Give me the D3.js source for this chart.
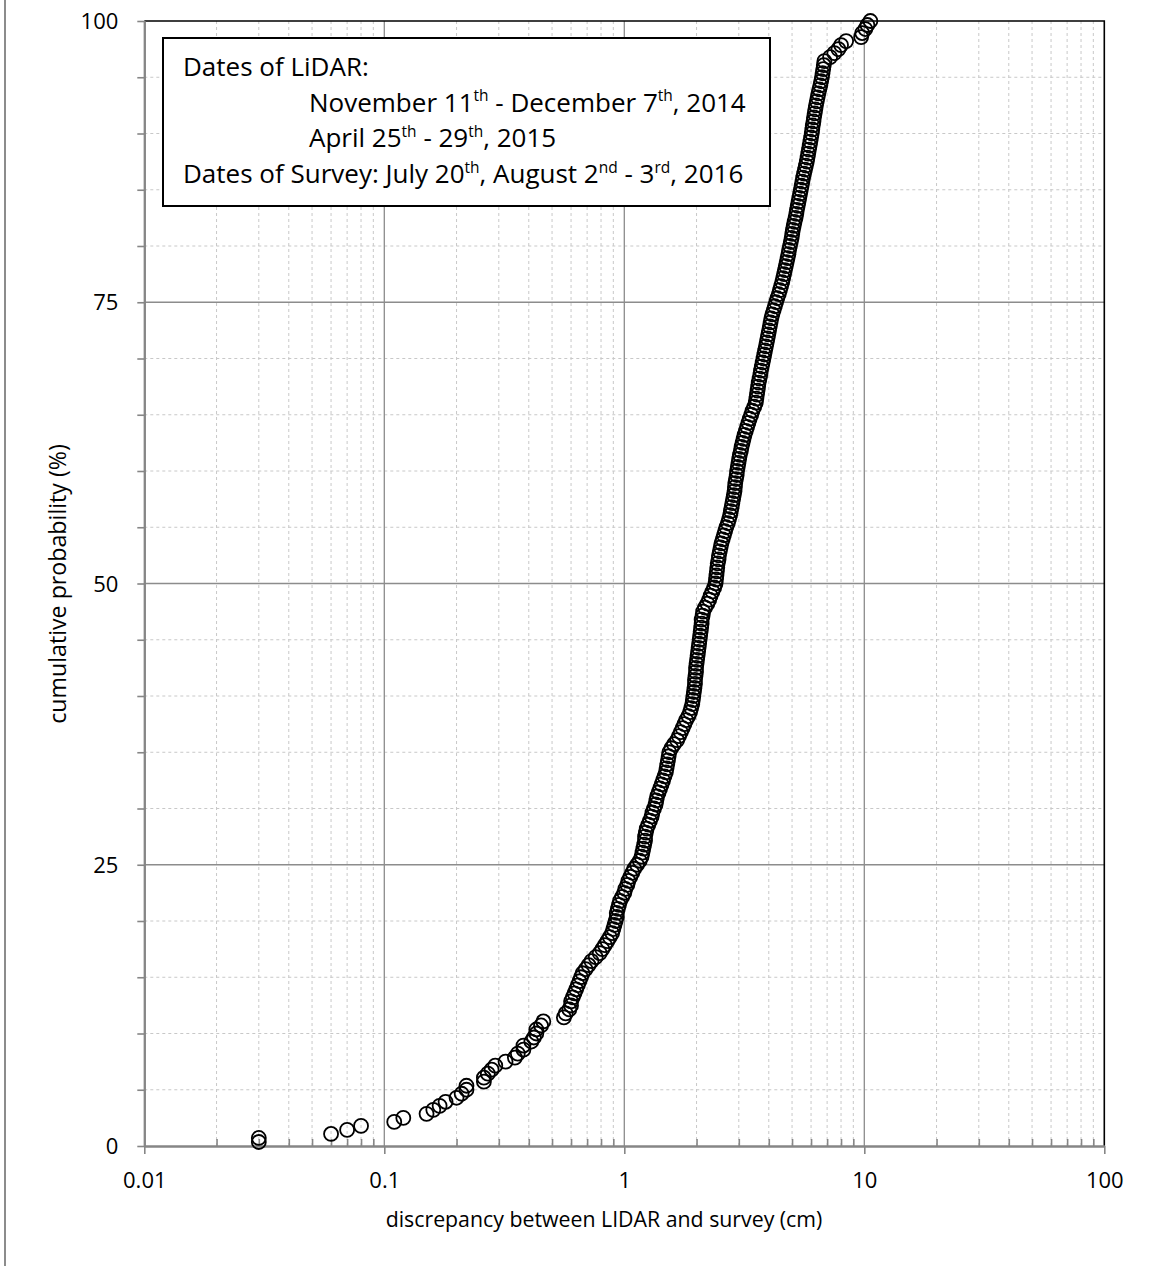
<!DOCTYPE html>
<html>
<head>
<meta charset="utf-8">
<script src="https://cdn.jsdelivr.net/npm/d3@7"></script>
<style>
	body { margin: 0; background: #fff; }
	svg { display: block; font-family: 'Open Sans', sans-serif; }
</style>
</head>
<body>
<svg id="chart" width="1151" height="1266"></svg>
<script>
// sorted discrepancies between LIDAR and survey, cm
let discrepancy = [
	0.03,0.03,0.06,0.07,0.08,0.11,0.12,0.15,0.16,0.17,
	0.18,0.20,0.21,0.22,0.22,0.26,0.26,0.27,0.28,0.29,
	0.32,0.35,0.36,0.38,0.38,0.41,0.42,0.43,0.43,0.45,
	0.46,0.56,0.57,0.59,0.60,0.60,0.61,0.62,0.63,0.64,
	0.65,0.66,0.67,0.69,0.71,0.73,0.76,0.79,0.81,0.83,
	0.85,0.87,0.89,0.90,0.91,0.92,0.93,0.93,0.94,0.95,
	0.96,0.98,1.00,1.01,1.03,1.04,1.06,1.08,1.10,1.13,
	1.16,1.18,1.19,1.20,1.21,1.22,1.22,1.23,1.24,1.26,
	1.28,1.30,1.31,1.33,1.35,1.36,1.37,1.39,1.41,1.43,
	1.45,1.47,1.49,1.50,1.51,1.52,1.53,1.54,1.57,1.61,
	1.66,1.69,1.72,1.75,1.78,1.81,1.85,1.88,1.90,1.92,
	1.93,1.94,1.95,1.96,1.97,1.97,1.98,1.99,1.99,2.00,
	2.01,2.02,2.03,2.04,2.05,2.06,2.07,2.08,2.09,2.10,
	2.10,2.12,2.13,2.17,2.22,2.26,2.29,2.33,2.37,2.40,
	2.41,2.42,2.43,2.44,2.45,2.47,2.48,2.50,2.52,2.54,
	2.57,2.60,2.63,2.66,2.70,2.73,2.76,2.78,2.80,2.82,
	2.84,2.86,2.88,2.89,2.90,2.92,2.94,2.95,2.97,2.99,
	3.01,3.03,3.06,3.08,3.11,3.14,3.17,3.21,3.25,3.29,
	3.33,3.38,3.42,3.48,3.53,3.55,3.57,3.59,3.61,3.63,
	3.66,3.69,3.71,3.74,3.77,3.80,3.83,3.86,3.89,3.92,
	3.95,3.98,4.01,4.04,4.07,4.10,4.14,4.19,4.24,4.29,
	4.34,4.40,4.45,4.50,4.55,4.59,4.63,4.67,4.71,4.75,
	4.79,4.83,4.86,4.90,4.94,4.98,5.01,5.04,5.08,5.12,
	5.17,5.21,5.24,5.28,5.32,5.36,5.40,5.44,5.48,5.52,
	5.56,5.61,5.66,5.71,5.76,5.80,5.84,5.88,5.92,5.96,
	6.00,6.04,6.07,6.10,6.14,6.17,6.21,6.25,6.29,6.34,
	6.39,6.44,6.50,6.56,6.61,6.66,6.70,6.74,6.78,6.82,
	7.20,7.50,7.80,8.00,8.40,9.70,9.80,10.1,10.3,10.6
]

let xTicks = [0.01, 0.1, 1, 10, 100]
let xTickLabels = ['0.01', '0.1', '1', '10', '100']
let yTicks = [0, 25, 50, 75, 100]
let yMinor = [5,10,15,20,30,35,40,45,55,60,65,70,80,85,90,95]

let xTitle = 'discrepancy between LIDAR and survey (cm)'
let yTitle = 'cumulative probability (%)'

// legend lines: [text, isSuperscript]
let legendLines = [
	[['Dates of LiDAR:']],
	[['November 11'],['th',1],[' - December 7'],['th',1],[', 2014']],
	[['April 25'],['th',1],[' - 29'],['th',1],[', 2015']],
	[['Dates of Survey: July 20'],['th',1],[', August 2'],['nd',1],[' - 3'],['rd',1],[', 2016']]
]
let legendIndent = [0, 126, 126, 0]

// cumulative probability of each sorted value
const points = discrepancy.map((d,i)=>({x:d, p:(i+1)/discrepancy.length*100}))

const _left = 144.3, _right = 1104.3, _top = 21, _bottom = 1146

const x = d3.scaleLog().domain([0.01,100]).range([_left,_right])
const y = d3.scaleLinear().domain([0,100]).range([_bottom,_top])

const svg = d3.select('#chart')

// frame line on the far left of the page
svg.append('line')
	.attr('x1',5).attr('x2',5).attr('y1',0).attr('y2',1266)
	.attr('stroke','#8c8c8c').attr('stroke-width',2)

const xAll = x.ticks()
const xMinor = xAll.filter(d => xTicks.indexOf(d) < 0)

const grid = svg.append('g')

// minor grid, dashed
grid.selectAll('.vminor')
	.data(xMinor)
	.enter()
	.append('line')
	.attr('x1',d=>x(d)).attr('x2',d=>x(d))
	.attr('y1',_top).attr('y2',_bottom)
	.attr('stroke','#c8c8c8').attr('stroke-width',1)
	.attr('stroke-dasharray','3,3')

grid.selectAll('.hminor')
	.data(yMinor)
	.enter()
	.append('line')
	.attr('x1',_left).attr('x2',_right)
	.attr('y1',d=>y(d)).attr('y2',d=>y(d))
	.attr('stroke','#c8c8c8').attr('stroke-width',1)
	.attr('stroke-dasharray','3,3')

// major grid
grid.selectAll('.vmajor')
	.data(xTicks.slice(1,-1))
	.enter()
	.append('line')
	.attr('x1',d=>x(d)).attr('x2',d=>x(d))
	.attr('y1',_top).attr('y2',_bottom)
	.attr('stroke','#8c8c8c').attr('stroke-width',1.3)

grid.selectAll('.hmajor')
	.data(yTicks.slice(1,-1))
	.enter()
	.append('line')
	.attr('x1',_left).attr('x2',_right)
	.attr('y1',d=>y(d)).attr('y2',d=>y(d))
	.attr('stroke','#8c8c8c').attr('stroke-width',1.3)

// top and right border
svg.append('path')
	.attr('d',`M${_left},${_top}H${_right}V${_bottom}`)
	.attr('fill','none').attr('stroke','#000').attr('stroke-width',1.6)

// axes
const axisCol = '#868686'

const gx = svg.append('g')
	.attr('transform',`translate(0,${_bottom})`)
	.call(d3.axisBottom(x).tickValues(xTicks).tickSize(8).tickSizeOuter(0).tickFormat((d,i)=>xTickLabels[i]))

gx.append('g')
	.call(d3.axisBottom(x).tickValues(xMinor).tickSize(-7).tickSizeOuter(0).tickFormat(''))

const gy = svg.append('g')
	.attr('transform',`translate(${_left},0)`)
	.call(d3.axisLeft(y).tickValues(yTicks).tickSize(7).tickSizeOuter(0))

gy.append('g')
	.call(d3.axisLeft(y).tickValues(yMinor).tickSize(7).tickSizeOuter(0).tickFormat(''))

svg.selectAll('.domain').attr('stroke',axisCol).attr('stroke-width',2)
svg.selectAll('.tick line').attr('stroke',axisCol).attr('stroke-width',1.6)

gx.selectAll('text')
	.attr('y',42).attr('dy',0)
	.attr('font-size',22).attr('font-family','Open Sans').attr('fill','#000')

gy.selectAll('text')
	.attr('x',-26).attr('dy','0.35em')
	.attr('font-size',22).attr('font-family','Open Sans').attr('fill','#000')

// axis titles
svg.append('text')
	.attr('x',604).attr('y',1227)
	.attr('text-anchor','middle')
	.attr('font-size',21.3)
	.text(xTitle)

svg.append('text')
	.attr('transform',`translate(66,584) rotate(-90)`)
	.attr('text-anchor','middle')
	.attr('font-size',23.2)
	.text(yTitle)

// points
svg.append('g')
	.selectAll('circle')
	.data(points)
	.enter()
	.append('circle')
	.attr('cx',d=>x(d.x))
	.attr('cy',d=>y(d.p))
	.attr('r',7)
	.attr('fill','none')
	.attr('stroke','#000')
	.attr('stroke-width',1.8)

// legend box
const legend = svg.append('g')

legend.append('rect')
	.attr('x',163).attr('y',38)
	.attr('width',607).attr('height',168)
	.attr('fill','#fff').attr('stroke','#000').attr('stroke-width',2)

legendLines.forEach((line,i)=>{
	const t = legend.append('text')
		.attr('x',183 + legendIndent[i])
		.attr('y',76 + i*35.7)
		.attr('font-size',26)
	let up = false
	line.forEach(seg=>{
		const ts = t.append('tspan').text(seg[0])
		if(seg[1]){
			ts.attr('font-size',15.5).attr('dy',-10.5)
			up = true
		}else if(up){
			ts.attr('dy',10.5)
			up = false
		}
	})
})
</script>
</body>
</html>
